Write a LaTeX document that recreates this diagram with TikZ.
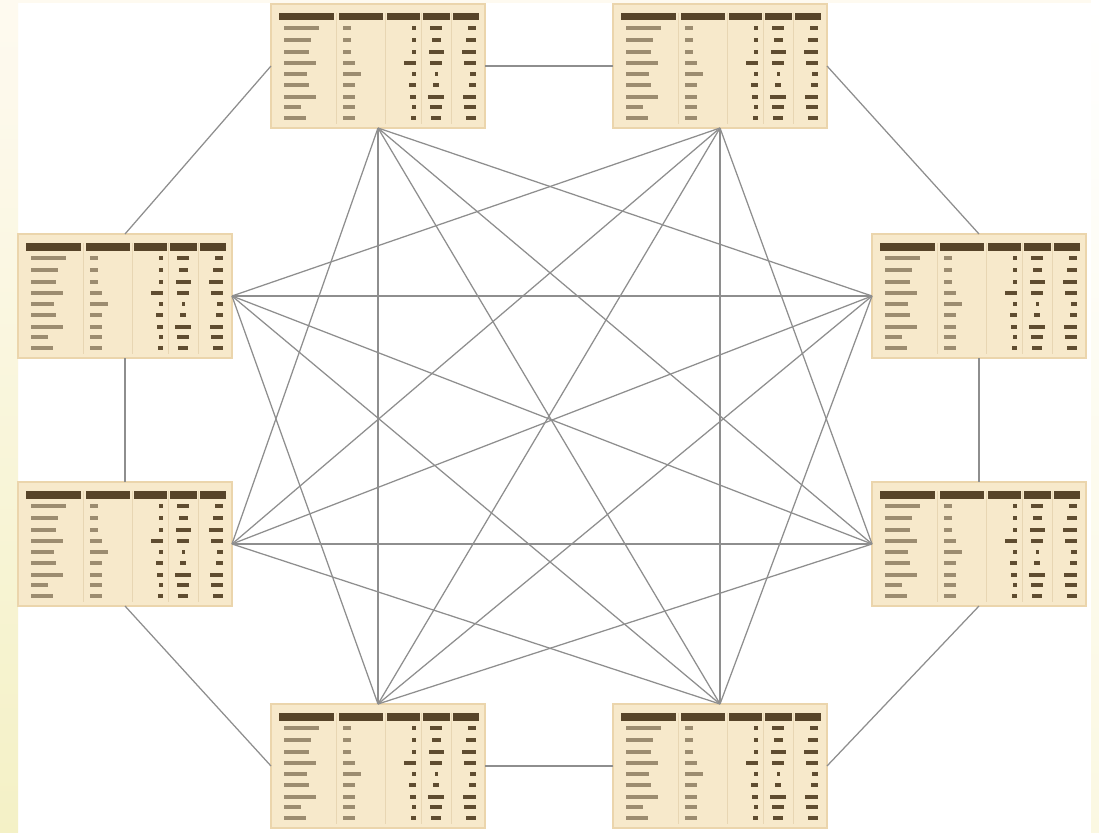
\documentclass[tikz,border=0pt]{standalone}
\usetikzlibrary{backgrounds}
\definecolor{tblfill}{HTML}{F7E9CB}
\definecolor{tbledge}{HTML}{EBD5AC}
\definecolor{hdrcol}{HTML}{574429}
\definecolor{ltblob}{HTML}{9C8C70}
\definecolor{dkblob}{HTML}{5F4C30}
\definecolor{sepcol}{HTML}{E8D6B3}
\definecolor{linkcol}{HTML}{8E8E8E}
\definecolor{stripA}{HTML}{FEFAF0}
\definecolor{stripB}{HTML}{F4F1C6}
\definecolor{stripC}{HTML}{FBF8E2}
\tikzset{
  tblbox/.style={draw=tbledge, line width=1.4pt, fill=tblfill, minimum width=214pt, minimum height=124pt, inner sep=0pt, outer sep=0pt},
  hdr/.style={fill=hdrcol},
  lt/.style={fill=ltblob},
  dk/.style={fill=dkblob},
  sep/.style={draw=sepcol, line width=0.6pt},
  link/.style={draw=linkcol, line width=1.25pt}
}
\newcommand{\mktable}[2]{%
  \node[tblbox] (#1) at (#2) {};
  \begin{scope}[shift={(#1.north west)}]
    \foreach \sx in {65.5,114,150.5,180.5}{\draw[sep] (\sx,9) -- (\sx,120);}
    \fill[hdr] (8,9) rectangle (63,16.5);
    \fill[hdr] (68,9) rectangle (112,16.5);
    \fill[hdr] (116,9) rectangle (149,16.5);
    \fill[hdr] (152,9) rectangle (179,16.5);
    \fill[hdr] (182,9) rectangle (208,16.5);
    \foreach \ry/\a/\b/\c/\d/\e in {24/35/8/4/12/8, 36/27/8/4/9/10, 48/25/8/4/15/14, 59/32/12/12/12/12, 70/23/18/4/3/6, 81/25/12/7/6/7, 93/32/12/6/16/13, 103/17/12/4/12/12, 114/22/12/5/10/10}{
      \fill[lt] (13,\ry-1.7) rectangle ++(\a,3.4);
      \fill[lt] (72,\ry-1.7) rectangle ++(\b,3.4);
      \fill[dk] (145,\ry-1.7) rectangle ++(-\c,3.4);
      \fill[dk] (165-\d/2,\ry-1.7) rectangle ++(\d,3.4);
      \fill[dk] (205,\ry-1.7) rectangle ++(-\e,3.4);
    }
  \end{scope}}
\begin{document}
\begin{tikzpicture}[x=1pt,y=-1pt]
\useasboundingbox (0,0) rectangle (1099,832);
\fill[white] (0,0) rectangle (1099,832);
\shade[top color=stripA, bottom color=stripB] (0,0) rectangle (18,832);
\shade[top color=white, bottom color=stripC] (1091,0) rectangle (1099,832);
\fill[stripA] (18,0) rectangle (1091,3);

\mktable{t1}{378,66}
\mktable{t2}{720,66}
\mktable{t3}{125,296}
\mktable{t4}{979,296}
\mktable{t5}{125,544}
\mktable{t6}{979,544}
\mktable{t7}{378,766}
\mktable{t8}{720,766}

% outer ring
\draw[link] (t1.east) -- (t2.west);
\draw[link] (t2.east) -- (t4.north);
\draw[link] (t4.south) -- (t6.north);
\draw[link] (t6.south) -- (t8.east);
\draw[link] (t8.west) -- (t7.east);
\draw[link] (t7.west) -- (t5.south);
\draw[link] (t5.north) -- (t3.south);
\draw[link] (t3.north) -- (t1.west);

% inner links
\foreach \p/\q in {t1.south/t4.west, t1.south/t6.west, t1.south/t8.north, t1.south/t7.north, t1.south/t5.east,
                   t2.south/t6.west, t2.south/t8.north, t2.south/t7.north, t2.south/t5.east, t2.south/t3.east,
                   t4.west/t8.north, t4.west/t7.north, t4.west/t5.east, t4.west/t3.east,
                   t6.west/t7.north, t6.west/t5.east, t6.west/t3.east,
                   t8.north/t5.east, t8.north/t3.east,
                   t7.north/t3.east}{
  \draw[link] (\p) -- (\q);
}
\end{tikzpicture}
\end{document}
